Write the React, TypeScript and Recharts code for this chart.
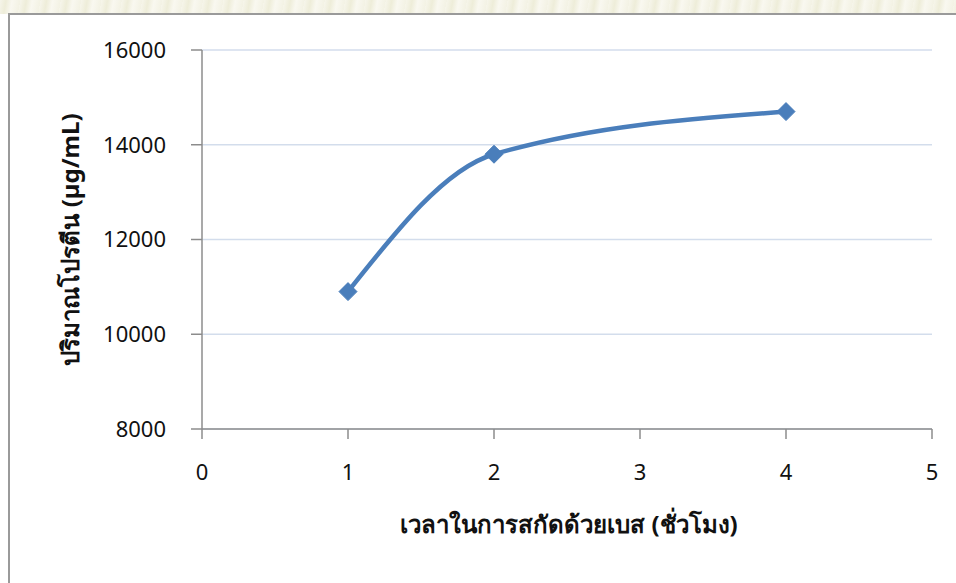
import React from "react";
import { LineChart, Line, XAxis, YAxis, CartesianGrid } from "recharts";

// Extraction time (hours) and protein content (µg/mL)
const hours = [1, 2, 4];
const protein = [10900, 13800, 14700];
const xTicks = [0, 1, 2, 3, 4, 5];
const yTicks = [8000, 10000, 12000, 14000, 16000];

const data = hours.map((h, i) => ({ h, p: protein[i] }));

const FONT = "Tahoma, 'Noto Sans', 'DejaVu Sans', sans-serif";

const Diamond = (props: any) => {
  const { cx, cy } = props;
  if (cx == null || cy == null) return null;
  const r = 9;
  return (
    <polygon
      points={`${cx},${cy - r} ${cx + r},${cy} ${cx},${cy + r} ${cx - r},${cy}`}
      fill="#4a7ebb"
      stroke="#4a7ebb"
      strokeWidth={1}
    />
  );
};

export default function App() {
  return (
    <div
      style={{
        position: "absolute",
        left: 0,
        top: 0,
        width: 956,
        height: 583,
        background: "#ffffff",
        overflow: "hidden",
        fontFamily: FONT,
      }}
    >
      <div
        style={{
          position: "absolute",
          left: 0,
          top: 0,
          width: 956,
          height: 14,
          background:
            "repeating-linear-gradient(100deg, #f6f5ea 0px, #eeedd9 6px, #f9f8f0 12px, #f3f2e4 20px)",
        }}
      />
      <div
        style={{
          position: "absolute",
          left: 8,
          top: 13,
          width: 960,
          height: 580,
          borderLeft: "2px solid #9a9a9a",
          borderTop: "2px solid #9a9a9a",
          background: "#ffffff",
        }}
      />
      <div style={{ position: "absolute", left: 0, top: 0 }}>
        <LineChart
          width={956}
          height={583}
          data={data}
          margin={{ top: 50, right: 24, bottom: 114, left: 130 }}
        >
          <CartesianGrid
            vertical={false}
            stroke="#d3ddec"
            strokeWidth={1.5}
          />
          <XAxis
            dataKey="h"
            type="number"
            domain={[0, 5]}
            ticks={xTicks}
            height={40}
            axisLine={{ stroke: "#8c8c8c", strokeWidth: 1.5 }}
            tickLine={{ stroke: "#8c8c8c", strokeWidth: 1.5 }}
            tickSize={10}
            tickMargin={25}
            tick={{ fill: "#111", fontSize: 22, fontFamily: FONT }}
            label={{
              value: "เวลาในการสกัดด้วยเบส (ชั่วโมง)",
              position: "insideBottom",
              offset: -64,
              dx: 2,
              fill: "#111",
              fontSize: 24,
              fontWeight: 700,
              fontFamily: FONT,
            }}
          />
          <YAxis
            type="number"
            domain={[8000, 16000]}
            ticks={yTicks}
            width={72}
            axisLine={{ stroke: "#8c8c8c", strokeWidth: 1.5 }}
            tickLine={{ stroke: "#8c8c8c", strokeWidth: 1.5 }}
            tickSize={11}
            tickMargin={25}
            tick={{ fill: "#111", fontSize: 22, fontFamily: FONT }}
            label={{
              value: "ปริมาณโปรตีน (µg/mL)",
              angle: -90,
              position: "insideLeft",
              offset: -60,
              dy: 0,
              style: { textAnchor: "middle" },
              fill: "#111",
              fontSize: 24,
              fontWeight: 700,
              fontFamily: FONT,
            }}
          />
          <Line
            type="monotone"
            dataKey="p"
            stroke="#4a7ebb"
            strokeWidth={4.5}
            dot={<Diamond />}
            activeDot={false}
            isAnimationActive={false}
          />
        </LineChart>
      </div>
    </div>
  );
}
